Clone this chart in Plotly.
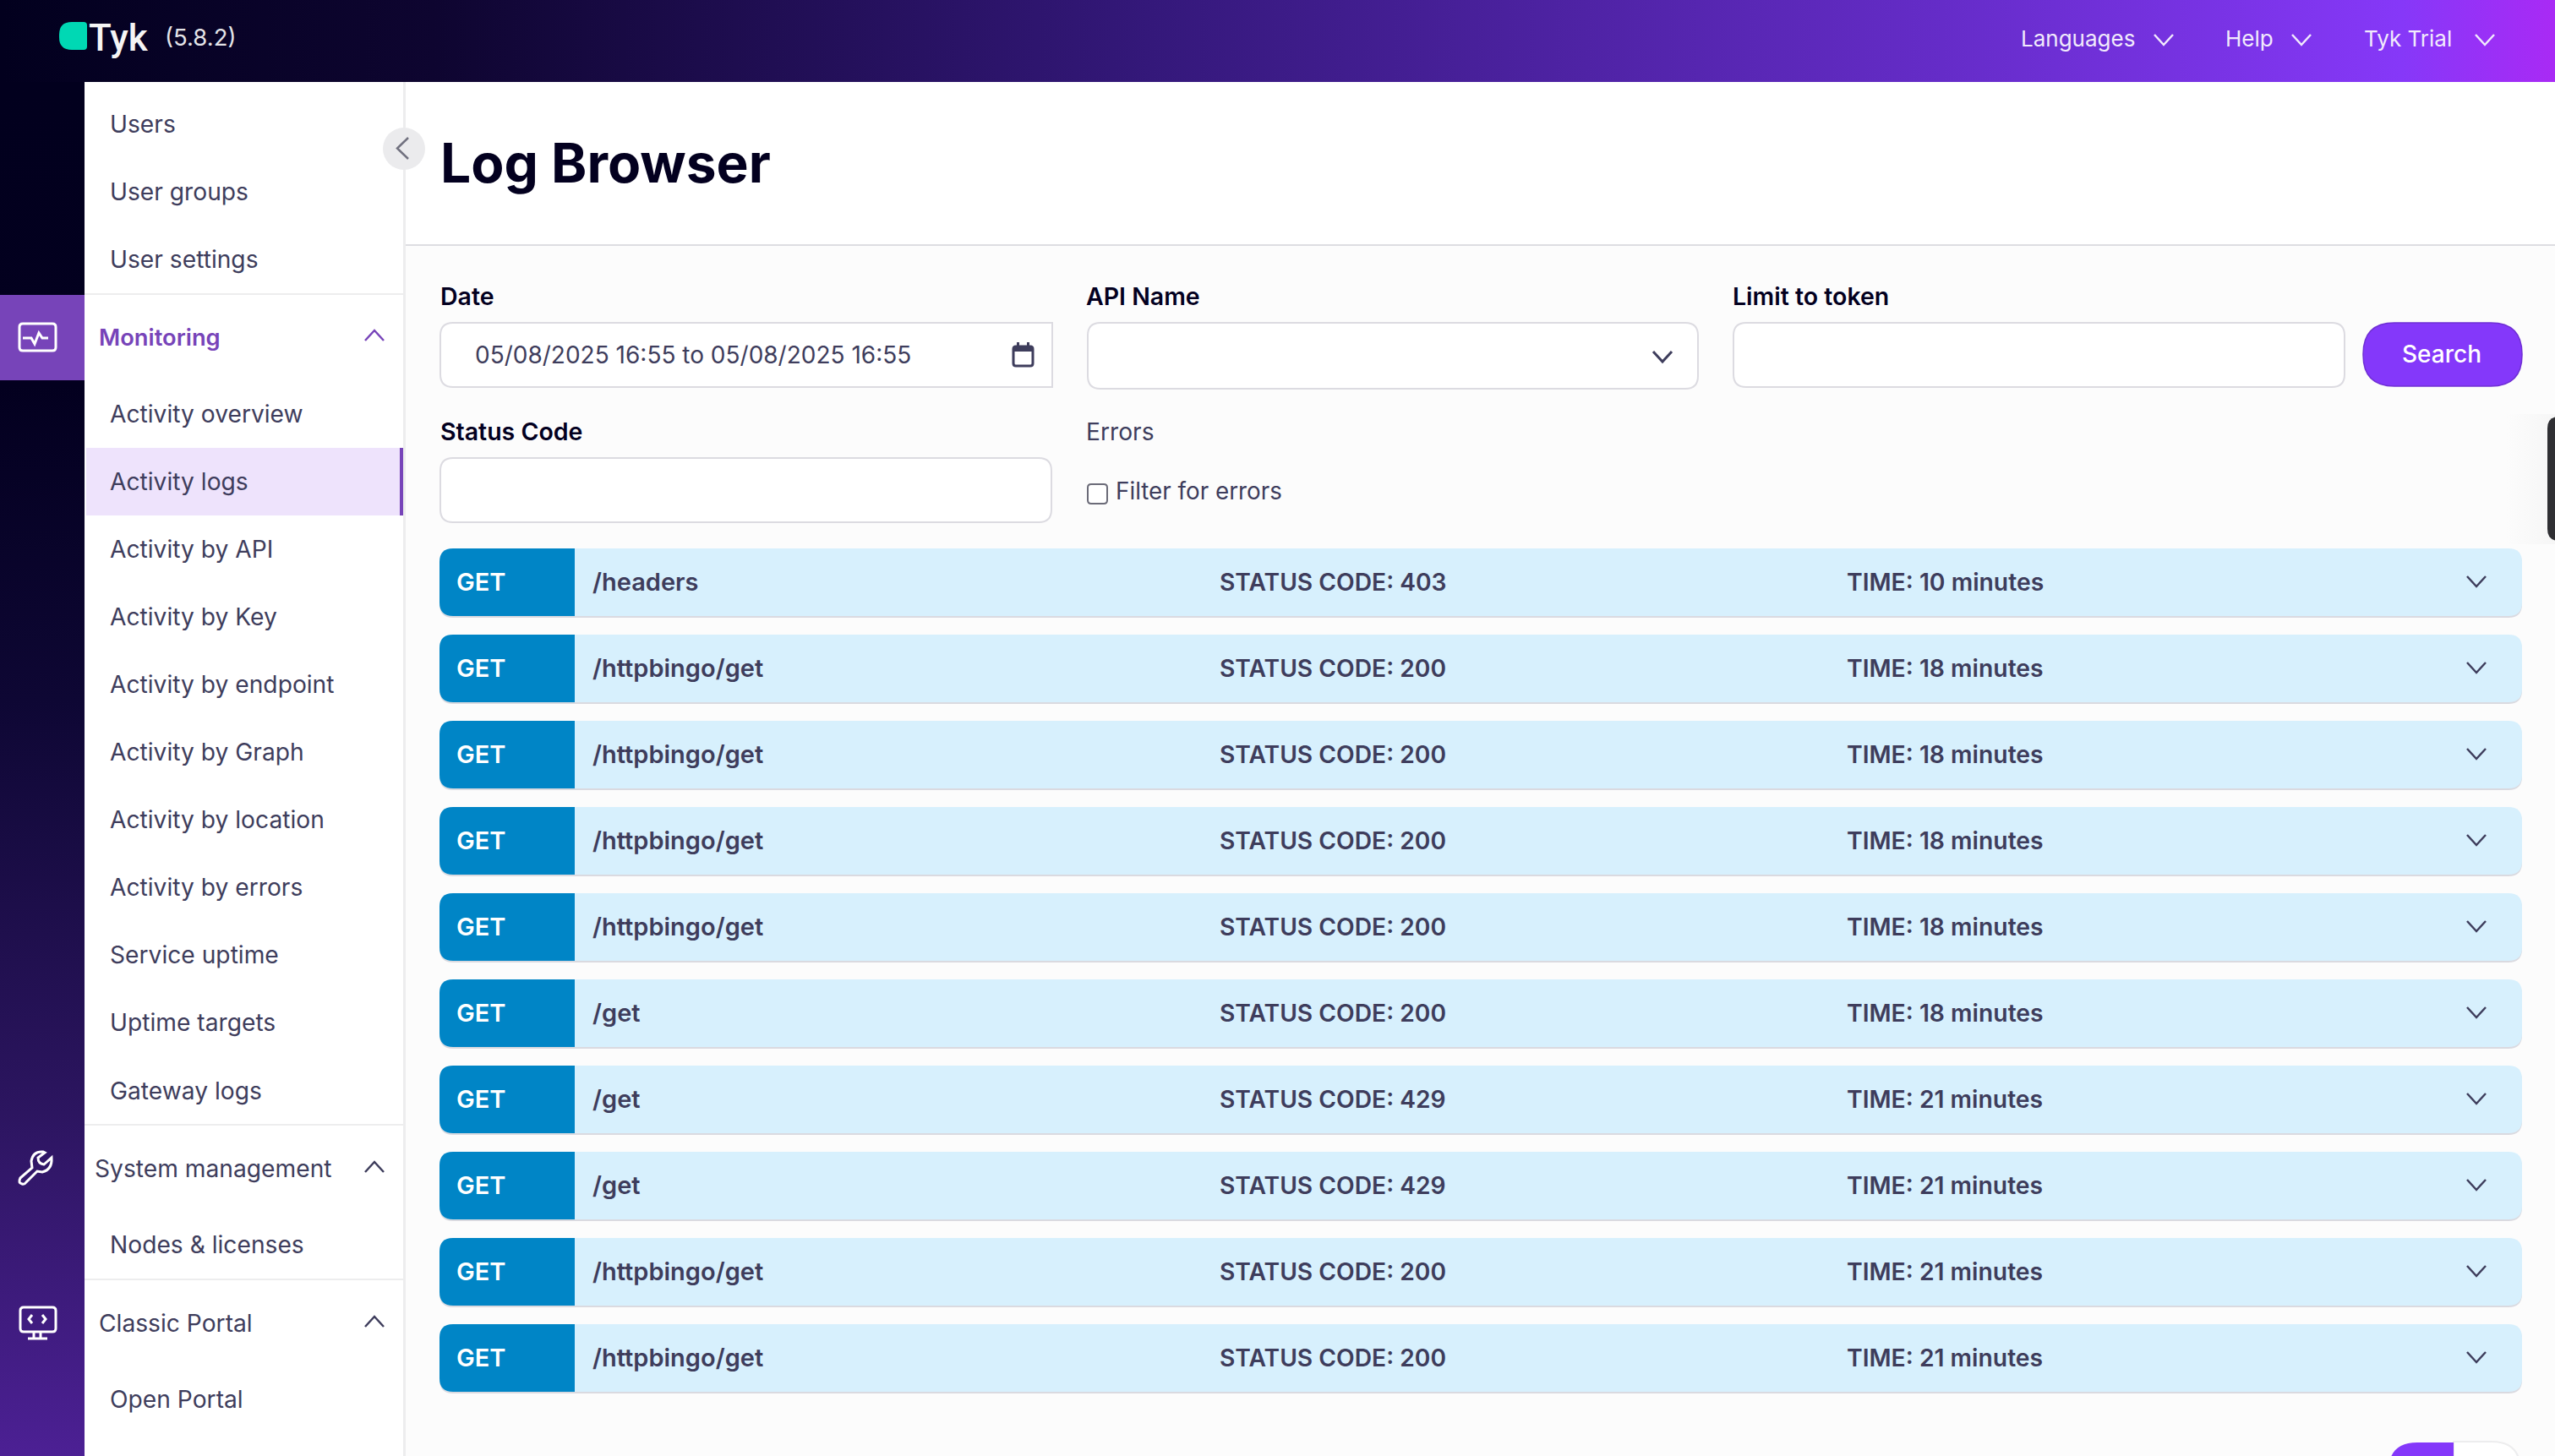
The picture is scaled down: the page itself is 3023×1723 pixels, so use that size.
import plotly.graph_objects as go

# Log rows
methods = ["GET"] * 10
paths = ["/headers", "/httpbingo/get", "/httpbingo/get", "/httpbingo/get", "/httpbingo/get",
         "/get", "/get", "/get", "/httpbingo/get", "/httpbingo/get"]
status_codes = [403, 200, 200, 200, 200, 200, 429, 429, 200, 200]
times = [10, 18, 18, 18, 18, 18, 21, 21, 21, 21]

# Sidebar
top_items = ["Users", "User groups", "User settings"]
monitoring_items = ["Activity overview", "Activity logs", "Activity by API", "Activity by Key",
                    "Activity by endpoint", "Activity by Graph", "Activity by location",
                    "Activity by errors", "Service uptime", "Uptime targets", "Gateway logs"]

# Header menu
menu_labels = ["Languages", "Help", "Tyk Trial"]
menu_x = [2392, 2634, 2798]
menu_chevron_x = [2560, 2723, 2940]

W, H = 3023, 1723
TEXT = "#3e3d5c"
DARK = "#03001f"
PURPLE = "#8438fa"
SIDE_PURPLE = "#7744b9"
BORDER = "#dcdbe1"
FONT = "Inter"

shapes = []
notes = []


def text(x, y, s, size=28.2, color=TEXT, weight=400, anchor="left", family=FONT):
    # annotations carry a small inner pad, take it off on left-aligned text
    if anchor == "left":
        x -= 3
    notes.append(dict(x=x, y=y - 0.5, text=s, showarrow=False, xanchor=anchor, yanchor="middle",
                      xref="x", yref="y", align="left",
                      font=dict(family=family, size=size, color=color, weight=weight)))


def round_path(x0, y0, x1, y1, r_left=15, r_right=15):
    return (f"M {x0 + r_left},{y0} L {x1 - r_right},{y0} Q {x1},{y0} {x1},{y0 + r_right} "
            f"L {x1},{y1 - r_right} Q {x1},{y1} {x1 - r_right},{y1} L {x0 + r_left},{y1} "
            f"Q {x0},{y1} {x0},{y1 - r_left} L {x0},{y0 + r_left} Q {x0},{y0} {x0 + r_left},{y0} Z")


def path(d, fill=None, line=None, width=0):
    s = dict(type="path", path=d, xref="x", yref="y", line=dict(width=width, color=line or "rgba(0,0,0,0)"))
    if fill:
        s["fillcolor"] = fill
    shapes.append(s)


def rect(x0, y0, x1, y1, fill):
    shapes.append(dict(type="rect", x0=x0, y0=y0, x1=x1, y1=y1, xref="x", yref="y",
                       fillcolor=fill, line=dict(width=0)))


def chevron(cx, cy, up=False, color=TEXT, half=11, rise=6, width=2.5):
    a, b = (cy + rise, cy - rise) if up else (cy - rise, cy + rise)
    path(f"M {cx - half},{a} L {cx},{b} L {cx + half},{a}", line=color, width=width)


fig = go.Figure()

# header and left strip gradients
fig.add_trace(go.Scatter(
    x=[0, W, W, 0, 0], y=[0, 0, 97, 97, 0], mode="none", fill="toself", hoverinfo="skip",
    fillgradient=dict(type="horizontal", colorscale=[
        [0, "#02001e"], [0.17, "#0e0530"], [0.45, "#34187a"], [0.76, "#652cc8"], [0.94, "#8638f8"], [1, "#a92af5"]])))
# y axis runs downwards, so this scale reads bottom to top
fig.add_trace(go.Scatter(
    x=[0, 100, 100, 0, 0], y=[97, 97, H, H, 97], mode="none", fill="toself", hoverinfo="skip",
    fillgradient=dict(type="vertical", colorscale=[
        [0, "#4c2094"], [0.25, "#2c1560"], [0.55, "#0e0734"], [0.78, "#03001f"], [1, "#02001e"]])))
# soft shadow next to the dark widget on the right edge
fig.add_trace(go.Scatter(
    x=[2965, W, W, 2965, 2965], y=[490, 490, 644, 644, 490], mode="none", fill="toself", hoverinfo="skip",
    fillgradient=dict(type="horizontal", colorscale=[[0, "#fcfcfc"], [1, "#f6f6f6"]])))

# main background, sidebar
rect(480, 97, W, 290, "#ffffff")
rect(480, 289, W, 291, "#dddde2")
rect(100, 97, 477, H, "#ffffff")
rect(477, 97, 480, H, "#ededee")

# collapse button
shapes.append(dict(type="circle", x0=453, y0=151, x1=503, y1=201, xref="x", yref="y",
                   fillcolor="#ebebed", line=dict(width=0)))
path("M 483,163 L 470,175.5 L 483,188", line="#71717f", width=2.5)

# sidebar section dividers
for y in [348, 1331, 1514]:
    rect(100, y - 1, 477, y + 1, "#ededee")

# monitoring highlight
rect(0, 349, 100, 450, SIDE_PURPLE)
rect(102, 530, 477, 610, "#eee3fc")
rect(473, 530, 477, 610, SIDE_PURPLE)

# logo and header
path(round_path(70, 26, 103, 59, 15, 4), fill="#00d8b4")
text(106, 45, "Tyk", size=44, color="#f5f5f5", weight=500, family="Roboto")
text(196, 44, "(5.8.2)", size=27.5, color="#e4e4e8")
for label, lx, cx in zip(menu_labels, menu_x, menu_chevron_x):
    text(lx, 46, label, size=26, color="#f1eafc")
    chevron(cx, 47, color="#f1eafc")

# sidebar text
for i, s in enumerate(top_items):
    text(131, 147 + i * 80, s)
text(118, 400, "Monitoring", size=27.3, color=SIDE_PURPLE, weight=600)
chevron(443, 397, up=True, color=SIDE_PURPLE)
for i, s in enumerate(monitoring_items):
    text(131, 490 + i * 80.1, s)
text(113, 1383, "System management")
chevron(443, 1381, up=True)
text(131, 1473, "Nodes & licenses")
text(118, 1566, "Classic Portal")
chevron(443, 1564, up=True)
text(131, 1656, "Open Portal")

# strip icons
path(round_path(23, 383, 66, 415, 4, 4), line="#ffffff", width=3)
path("M 27,400 L 37,400 L 41,407 L 46,394 L 50,400 L 57,400", line="#ffffff", width=3)
path("M 51,1363 Q 39,1362 37,1374 L 38,1382 L 24,1394 Q 21,1400 26,1401 Q 29,1402 31,1399 L 44,1386 "
     "L 50,1387 Q 62,1384 61,1370 L 52,1378 Q 45,1377 45,1370 L 53,1364 Z", line="#ffffff", width=3)
path(round_path(24, 1547, 66, 1576, 4, 4), line="#ffffff", width=3)
path("M 38,1556 L 34,1561 L 38,1566", line="#ffffff", width=3)
path("M 50,1556 L 54,1561 L 50,1566", line="#ffffff", width=3)
path("M 40,1577 L 40,1583 M 48,1577 L 48,1583 M 33,1584 L 56,1584", line="#ffffff", width=3)

# page title and form
text(522, 193, "Log Browser", size=64, color=DARK, weight=700)
text(522, 351, "Date", size=28.5, color=DARK, weight=600)
text(1286, 351, "API Name", size=28.5, color=DARK, weight=600)
text(2051, 351, "Limit to token", size=28.5, color=DARK, weight=600)
text(522, 511, "Status Code", size=28.5, color=DARK, weight=600)
text(1286, 511, "Errors", size=28.2, color=TEXT)

path(round_path(521, 382, 1245, 458, 15, 0), fill="#ffffff", line=BORDER, width=2)
path(round_path(521, 542, 1244, 618, 15, 15), fill="#ffffff", line=BORDER, width=2)
path(round_path(1287, 382, 2009, 460, 15, 15), fill="#ffffff", line=BORDER, width=2)
path(round_path(2051, 382, 2774, 458, 15, 15), fill="#ffffff", line=BORDER, width=2)
path(round_path(2796, 382, 2984, 457, 37, 37), fill=PURPLE, line="#6f2fd4", width=1.5)
text(2889, 419, "Search", size=28, color="#ffffff", weight=500, anchor="center")

text(563, 420, "05/08/2025 16:55 to 05/08/2025 16:55", size=28)
path(round_path(1199, 410, 1222, 433, 3, 3), line=TEXT, width=3)
rect(1199, 410, 1222, 416, TEXT)
rect(1203, 405, 1206, 411, TEXT)
rect(1215, 405, 1218, 411, TEXT)
chevron(1967, 422, width=3)

path(round_path(1287, 573, 1310, 596, 4, 4), fill="#ffffff", line="#6b6b78", width=2)
text(1321, 581, "Filter for errors", size=27.8)

# dark widget on the right edge
path(round_path(3014, 493, 3060, 640, 14, 14), fill="#2f2f33")

# log rows
for i in range(len(paths)):
    top = 649 + i * 102
    bottom = top + 80
    path(round_path(520, top + 2, 2984, bottom + 2, 16, 16), fill="#dadae0")
    path(round_path(520, top, 2984, bottom, 16, 16), fill="#d7f0fd")
    path(round_path(520, top, 680, bottom, 16, 0), fill="#0085c6")
    mid = top + 40
    text(541, mid, methods[i], size=29, color="#ffffff", weight=600)
    text(702, mid, paths[i], size=29, weight=600)
    text(1444, mid, f"STATUS CODE: {status_codes[i]}", size=28.2, weight=600)
    text(2186, mid, f"TIME: {times[i]} minutes", size=28.3, weight=600)
    chevron(2930, mid - 1, width=2.5)

# pagination peeking in at the bottom
path(round_path(2903, 1706, 2982, 1780, 0, 34), fill="#ffffff", line="#ededee", width=2)
path(round_path(2826, 1707, 2903, 1780, 34, 0), fill=PURPLE)

fig.update_layout(
    width=W, height=H, margin=dict(l=0, r=0, t=0, b=0), showlegend=False,
    paper_bgcolor="#fcfcfc", plot_bgcolor="#fcfcfc",
    xaxis=dict(range=[0, W], visible=False, fixedrange=True),
    yaxis=dict(range=[H, 0], visible=False, fixedrange=True),
    shapes=shapes, annotations=notes,
)
fig.write_html("out.html", config={"displayModeBar": False},
               post_script="document.body.style.margin='0';")
